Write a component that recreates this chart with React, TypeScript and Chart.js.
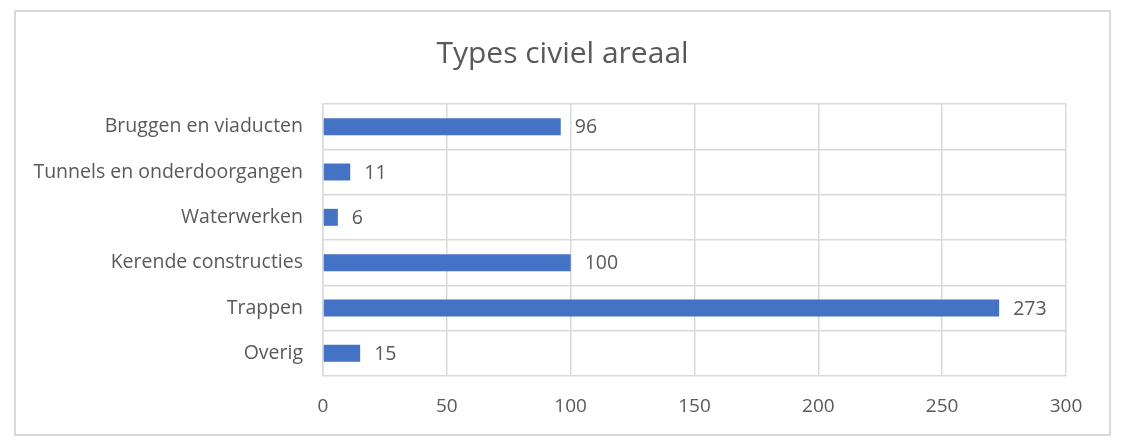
import React, { useEffect, useRef } from "react";
import { Chart, registerables } from "chart.js";

Chart.register(...registerables);

const categories = [
  "Bruggen en viaducten",
  "Tunnels en onderdoorgangen",
  "Waterwerken",
  "Kerende constructies",
  "Trappen",
  "Overig",
];
const values = [96, 11, 6, 100, 273, 15];
const xTicks = [0, 50, 100, 150, 200, 250, 300];
const title = "Types civiel areaal";

const FONT = "'Open Sans', sans-serif";
const TEXT = "#595959";

const labelPlugin = {
  id: "barLabels",
  afterDatasetsDraw(chart: any) {
    const ctx = chart.ctx;
    const meta = chart.getDatasetMeta(0);
    ctx.save();
    ctx.font = `19.5px ${FONT}`;
    ctx.fillStyle = TEXT;
    ctx.textAlign = "left";
    ctx.textBaseline = "middle";
    meta.data.forEach((bar: any, i: number) => {
      ctx.fillText(String(values[i]), bar.x + 14, bar.y + 1);
    });
    ctx.restore();
  },
};

const titlePlugin = {
  id: "centeredTitle",
  afterDraw(chart: any) {
    const ctx = chart.ctx;
    ctx.save();
    ctx.font = `30px ${FONT}`;
    ctx.fillStyle = TEXT;
    ctx.textAlign = "center";
    ctx.textBaseline = "middle";
    ctx.fillText(title, chart.width / 2, 42);
    ctx.restore();
  },
};

export default function App() {
  const ref = useRef<HTMLCanvasElement>(null);
  useEffect(() => {
    if (!ref.current) return;
    const chart = new Chart(ref.current, {
      type: "bar",
      data: {
        labels: categories,
        datasets: [
          {
            data: values,
            backgroundColor: "#4472C4",
            borderWidth: 0,
            barPercentage: 0.375,
            categoryPercentage: 1,
          },
        ],
      },
      options: {
        indexAxis: "y",
        animation: false,
        responsive: false,
        maintainAspectRatio: false,
        layout: { padding: { top: 92, right: 43, bottom: 0, left: 0 } },
        plugins: {
          legend: { display: false },
          tooltip: { enabled: false },
          title: { display: false },
        },
        scales: {
          x: {
            min: 0,
            max: 300,
            afterBuildTicks(scale: any) {
              scale.ticks = xTicks.map((v) => ({ value: v }));
            },
            afterFit(scale: any) {
              scale.height = 58;
            },
            grid: { color: "#d9d9d9", lineWidth: 1.5, drawTicks: false },
            border: { display: false },
            ticks: {
              color: TEXT,
              font: { family: FONT, size: 19 },
              padding: 19,
            },
          },
          y: {
            afterFit(scale: any) {
              scale.width = 307;
            },
            grid: { color: "#d9d9d9", lineWidth: 1.5, drawTicks: false, offset: true },
            border: { display: true, color: "#d9d9d9", width: 1.5 },
            ticks: {
              color: TEXT,
              font: { family: FONT, size: 19.5 },
              padding: 20,
            },
          },
        },
      },
      plugins: [labelPlugin, titlePlugin],
    });
    return () => chart.destroy();
  }, []);
  return (
    <div
      style={{
        position: "absolute",
        left: 14,
        top: 10,
        width: 1097,
        height: 426,
        border: "2px solid #d9d9d9",
        boxSizing: "border-box",
        background: "#fff",
      }}
    >
      <canvas ref={ref} width={1093} height={422} style={{ display: "block" }} />
    </div>
  );
}
